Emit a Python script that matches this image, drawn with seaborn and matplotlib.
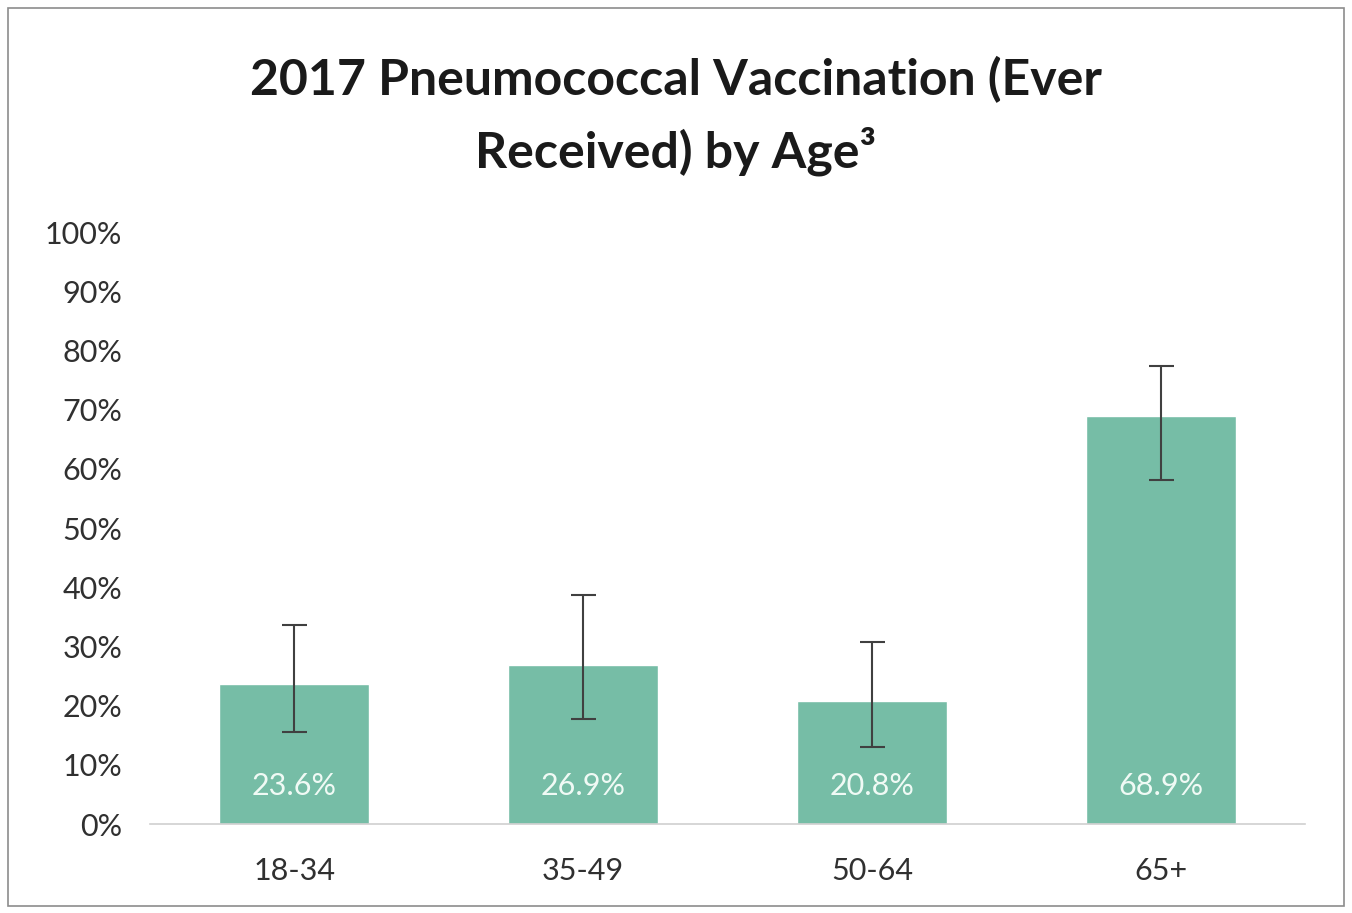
import matplotlib
matplotlib.use("Agg")
import matplotlib.pyplot as plt
import seaborn as sns
import pandas as pd
from matplotlib.patches import Rectangle

categories = ["18-34", "35-49", "50-64", "65+"]
values = [23.6, 26.9, 20.8, 68.9]
ci_lower = [15.5, 17.7, 13.0, 58.1]
ci_upper = [33.6, 38.7, 30.7, 77.4]
yticks = [0, 10, 20, 30, 40, 50, 60, 70, 80, 90, 100]
title = "2017 Pneumococcal Vaccination (Ever\nReceived) by Age\u00b3"

sns.set_theme(style="white")
plt.rcParams["font.family"] = ["Lato", "DejaVu Sans"]

df = pd.DataFrame({"age": categories, "pct": values})

fig = plt.figure(figsize=(13.52, 9.13), dpi=100)
ax = fig.add_axes([150/1352, 1-824/913, (1305-150)/1352, (824-232)/913])

sns.barplot(data=df, x="age", y="pct", color="#76BDA6", saturation=1, width=0.52, ax=ax)

yerr = [[v - l for v, l in zip(values, ci_lower)], [u - v for v, u in zip(values, ci_upper)]]
ax.errorbar(range(len(categories)), values, yerr=yerr, fmt="none", ecolor="#404040",
            elinewidth=1.5, capsize=9, capthick=1.5)

for i, v in enumerate(values):
    ax.text(i, 6.5, f"{v:.1f}%", ha="center", va="center", color="#F0FAF5", fontsize=22)

ax.set_ylim(0, 100)
ax.set_xlim(-0.5, 3.5)
ax.set_yticks(yticks)
ax.set_yticklabels([f"{t}%" for t in yticks], fontsize=22, color="#303030")
ax.tick_params(axis="x", labelsize=22, colors="#303030", pad=24, length=0)
ax.tick_params(axis="y", length=0, pad=20)
ax.set_xlabel("")
ax.set_ylabel("")
for s in ["top", "right", "left"]:
    ax.spines[s].set_visible(False)
ax.spines["bottom"].set_color("#D0D0D0")
ax.spines["bottom"].set_linewidth(1.2)

fig.text(0.5, 1 - 116/913, title, ha="center", va="center", fontsize=36,
         fontweight="bold", color="#1a1a1a", linespacing=1.55)

fig.patches.append(Rectangle((8/1352, 1-906/913), (1344-8)/1352, (906-8)/913,
                             transform=fig.transFigure, fill=False, edgecolor="#8C8C8C", linewidth=1.2))

fig.savefig("out.png", dpi=100, facecolor="white")
